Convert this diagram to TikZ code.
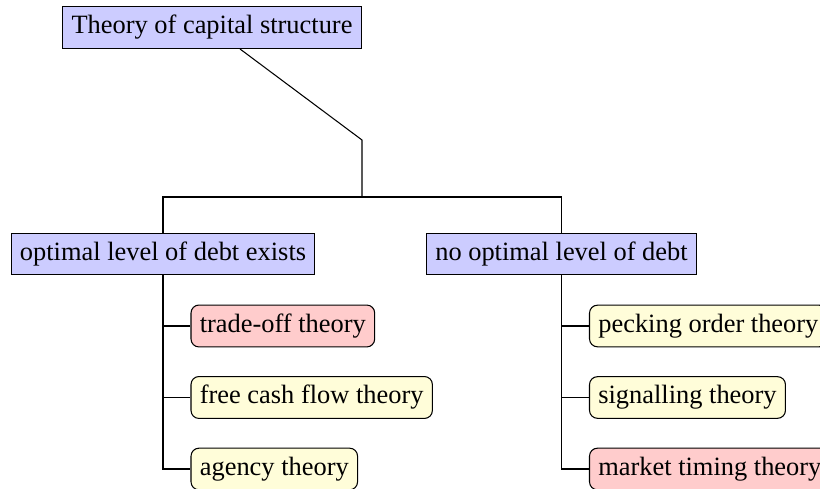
\documentclass[tikz,border=0pt]{standalone}
\usepackage{fontspec}
\setmainfont{Liberation Serif}
\usepackage{xcolor}
\usepackage{tikz}

\begin{document}
\begin{tikzpicture}[x=0.3785pt, y=-0.3785pt,
  topbox/.style={draw, fill=blue!20},
  leafbox/.style={draw, rounded corners=3pt, anchor=west}]
\useasboundingbox (0,0) rectangle (820,489);
\clip (0,0) rectangle (820,489);
\node[topbox] (root)  at (212,27.5) {Theory of capital structure};
\node[topbox] (opt)   at (163,254)  {optimal level of debt exists};
\node[topbox] (noopt) at (561.5,254) {no optimal level of debt};
\coordinate (bend)  at (362,140);
\coordinate (split) at (362,197);
\draw ([xshift=10.6pt]root.south) -- (bend) -- (split);
\draw (opt.north) |- (split) -| (noopt.north);
\foreach \y/\name/\col/\txt in {326/tradeoff/red!20/trade-off theory, 397.5/freecash/yellow!15/free cash flow theory, 469/agency/yellow!15/agency theory}{
\node[leafbox, fill=\col] (\name) at (190.5,\y) {\txt};
\draw (opt.south) |- (\name.west);
}
\foreach \y/\name/\col/\txt in {326/pecking/yellow!15/pecking order theory, 397.5/signal/yellow!15/signalling theory, 469/timing/red!20/market timing theory}{
\node[leafbox, fill=\col] (\name) at (589,\y) {\txt};
\draw (noopt.south) |- (\name.west);
}
\end{tikzpicture}
\end{document}
